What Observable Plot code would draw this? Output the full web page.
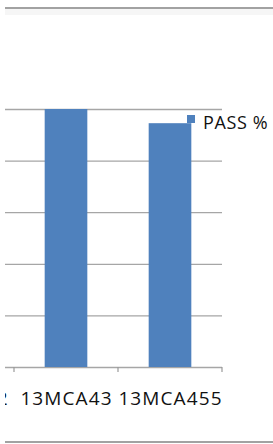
<!DOCTYPE html>
<html>
<head>
<meta charset="utf-8">
<script src="https://cdn.jsdelivr.net/npm/d3@7"></script>
<script src="https://cdn.jsdelivr.net/npm/@observablehq/plot@0.6"></script>
<style>
  html, body { margin: 0; padding: 0; background: #fff; overflow: hidden; }
  #wrap { position: relative; width: 273px; height: 444px; }
  #chart { position: absolute; left: 5px; top: 0; width: 268px; height: 444px; overflow: hidden; }
  .hline { position: absolute; left: 5px; width: 268px; height: 2px; background: #a2a2a2; }
  .shade { position: absolute; left: 5px; width: 268px; height: 6px; background: #f6f6f6; }
  #swatch { position: absolute; left: 187px; top: 115px; width: 8px; height: 8px; background: #4f81bd; }
  #legtext { position: absolute; left: 203px; top: 113px; font: 18px/18px "Open Sans", sans-serif; color: #111; white-space: nowrap; letter-spacing: 0.6px; }
</style>
</head>
<body>
<div id="wrap">
  <div class="hline" style="top:7px"></div>
  <div class="shade" style="top:9px"></div>
  <div id="chart"></div>
  <div id="swatch"></div>
  <div id="legtext"></div>
  <div class="hline" style="top:441px"></div>
</div>
<script>
// Category labels on the axis (the first one is cut off at the left edge of the picture)
const axisCategories = ["13MCA42", "13MCA43", "13MCA455"];
// Visible bars
const barCategories = ["13MCA43", "13MCA455"];
const passValues = [100, 94.5];
const seriesName = "PASS %";
const yTicks = [0, 20, 40, 60, 80, 100];

const data = barCategories.map((c, i) => ({category: c, value: passValues[i]}));

const NS = "http://www.w3.org/2000/svg";
function bandBoundaryTicks(index, scales) {
  const x = scales.x, y = scales.y;
  const step = x.step(), bw = x.bandwidth();
  const starts = axisCategories.map(d => x(d) - (step - bw) / 2);
  const bounds = starts.concat(starts[starts.length - 1] + step);
  const y0 = y(0);
  const g = document.createElementNS(NS, "g");
  for (const b of bounds) {
    const l = document.createElementNS(NS, "line");
    l.setAttribute("x1", b); l.setAttribute("x2", b);
    l.setAttribute("y1", y0); l.setAttribute("y2", y0 + 5);
    l.setAttribute("stroke", "#9a9a9a");
    l.setAttribute("stroke-width", 1.2);
    g.appendChild(l);
  }
  return g;
}

const chart = Plot.plot({
  width: 268,
  height: 444,
  marginLeft: 0,
  marginRight: 51,
  marginTop: 109,
  marginBottom: 77,
  style: {
    fontFamily: "'Open Sans', sans-serif",
    fontSize: "19px",
    color: "#111",
    letterSpacing: "1.1px",
    background: "transparent",
    overflow: "hidden"
  },
  x: {
    type: "band",
    domain: axisCategories,
    range: [-95, 217],
    paddingInner: 0.59,
    paddingOuter: 0.295,
    round: false,
    tickSize: 0,
    tickPadding: 24,
    label: null
  },
  y: { domain: [0, 100], axis: null },
  marks: [
    Plot.ruleY(yTicks, { stroke: "#a6a6a6", strokeWidth: 1.3 }),
    Plot.barY(data, { x: "category", y: "value", fill: "#4f81bd" }),
    bandBoundaryTicks
  ]
});
document.getElementById("chart").appendChild(chart);
document.getElementById("legtext").textContent = seriesName;
</script>
</body>
</html>
